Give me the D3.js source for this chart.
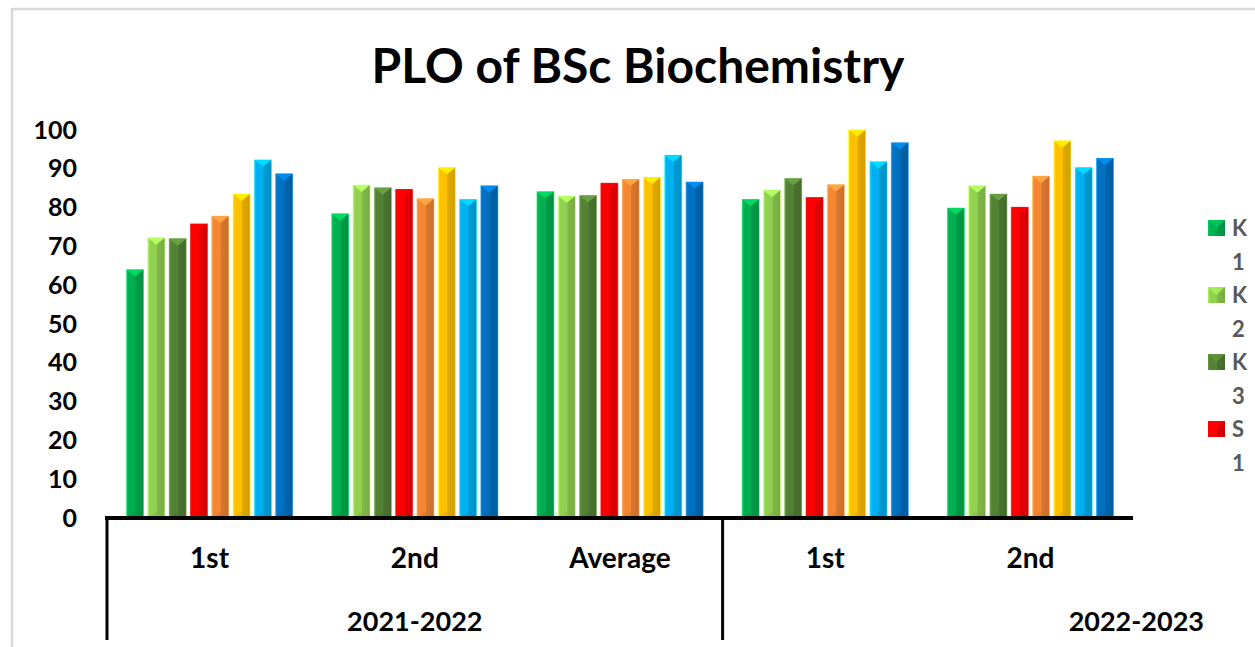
<!DOCTYPE html>
<html>
<head>
<meta charset="utf-8">
<script src="https://cdn.jsdelivr.net/npm/d3@7"></script>
<style>
  body { margin: 0; background: #fff; }
  text { font-family: Lato, "Open Sans", sans-serif; font-weight: bold; }
</style>
</head>
<body>
<svg id="chart" width="1255" height="647"></svg>
<script>
// categories (level 1) and their year groups (level 2)
const categories = ["1st", "2nd", "Average", "1st", "2nd"];
const yearLabels = ["2021-2022", "2022-2023"];
const yearSpans = [3, 2];

const seriesNames = ["K1", "K2", "K3", "S1", "S2", "S3", "A1", "A2"];
const seriesColors = ["#00B050", "#92D050", "#548235", "#FF0000", "#F58634", "#FFC000", "#00B0F0", "#0070C0"];

const k1 = [64.0, 78.4, 84.1, 82.1, 79.9];
const k2 = [72.2, 85.8, 83.0, 84.5, 85.6];
const k3 = [72.0, 85.1, 83.1, 87.5, 83.5];
const s1 = [75.8, 84.7, 86.3, 82.6, 80.1];
const s2 = [77.8, 82.3, 87.3, 85.9, 88.1];
const s3 = [83.5, 90.3, 87.8, 100.0, 97.2];
const a1 = [92.3, 82.1, 93.5, 91.8, 90.3];
const a2 = [88.7, 85.6, 86.6, 96.7, 92.7];
const seriesValues = [k1, k2, k3, s1, s2, s3, a1, a2];

const yTicks = [0, 10, 20, 30, 40, 50, 60, 70, 80, 90, 100];

const svg = d3.select("#chart");

// chart frame
svg.append("rect")
    .attr("x", 12).attr("y", 9)
    .attr("width", 1400).attr("height", 800)
    .attr("fill", "none").attr("stroke", "#d9d9d9").attr("stroke-width", 2.5);

svg.append("text")
    .attr("x", 638).attr("y", 83)
    .attr("text-anchor", "middle")
    .attr("font-size", 48)
    .text("PLO of BSc Biochemistry");

const x0 = d3.scaleBand().domain(d3.range(categories.length)).range([107, 1133]);
const x1 = d3.scaleBand().domain(d3.range(seriesNames.length))
    .range([19.5, x0.bandwidth() - 19.5]).paddingInner(0.2);
const y = d3.scaleLinear().domain([0, 100]).range([518, 130]);

// gradients to imitate the bevelled bar look
const defs = svg.append("defs");
seriesColors.forEach((c, i) => {
    const g = defs.append("linearGradient").attr("id", "bar" + i)
        .attr("x1", 0).attr("x2", 1).attr("y1", 0).attr("y2", 0);
    const base = d3.color(c);
    [[0, base.brighter(0.5)], [0.12, base], [0.5, base], [0.56, base.darker(0.35)], [1, base.darker(0.55)]]
        .forEach(([o, col]) => g.append("stop").attr("offset", o).attr("stop-color", col));
});

// y axis
const yAxis = svg.append("g")
    .attr("transform", "translate(77,0)")
    .call(d3.axisLeft(y).tickValues(yTicks).tickSize(0).tickPadding(0));
yAxis.select(".domain").remove();
yAxis.selectAll("text").attr("font-size", 25).attr("fill", "#000")
    .style("font-family", "Lato, sans-serif");

// bars
const cats = svg.append("g").selectAll("g")
    .data(d3.range(categories.length))
    .join("g")
    .attr("transform", i => "translate(" + x0(i) + ",0)");

const bars = cats.selectAll("g")
    .data(i => seriesValues.map((vals, j) => ({ s: j, v: vals[i] })))
    .join("g");

const bw = x1.bandwidth();

bars.append("rect")
    .attr("x", d => x1(d.s))
    .attr("y", d => y(d.v))
    .attr("width", bw)
    .attr("height", d => y(0) - y(d.v))
    .attr("fill", d => "url(#bar" + d.s + ")")
    .attr("stroke", d => d3.color(seriesColors[d.s]).brighter(0.9))
    .attr("stroke-opacity", 0.6)
    .attr("stroke-width", 0.8);

// top bevel point
bars.append("path")
    .attr("d", d => {
        const x = x1(d.s), t = y(d.v);
        return "M" + x + "," + t + "L" + (x + bw) + "," + t + "L" + (x + bw / 2) + "," + (t + bw * 0.4) + "Z";
    })
    .attr("fill", d => d3.color(seriesColors[d.s]).brighter(0.6));

// bottom bevel point
bars.append("path")
    .attr("d", d => {
        const x = x1(d.s), b = y(0);
        return "M" + x + "," + b + "L" + (x + bw) + "," + b + "L" + (x + bw / 2) + "," + (b - bw * 0.4) + "Z";
    })
    .attr("fill", d => d3.color(seriesColors[d.s]).darker(0.5))
    .attr("opacity", 0.35);

// category axis
const xAxis = svg.append("g")
    .attr("transform", "translate(0,518)")
    .call(d3.axisBottom(x0).tickSize(0).tickPadding(30).tickFormat(i => categories[i]));
xAxis.select(".domain").remove();
xAxis.selectAll("text").attr("font-size", 28).attr("fill", "#000")
    .style("font-family", "Lato, sans-serif");

svg.append("line")
    .attr("x1", x0.range()[0] - 2).attr("x2", x0.range()[1])
    .attr("y1", y(0)).attr("y2", y(0))
    .attr("stroke", "#000").attr("stroke-width", 4);

// year group separators and labels
let start = 0;
yearLabels.forEach((lbl, k) => {
    const xs = x0(start);
    svg.append("line")
        .attr("x1", xs).attr("x2", xs)
        .attr("y1", y(0)).attr("y2", 640)
        .attr("stroke", "#000").attr("stroke-width", 3);
    const last = k === yearLabels.length - 1;
    const xe = last ? x0.range()[1] + 71 : x0(start + yearSpans[k]);
    svg.append("text")
        .attr("x", last ? xe : (xs + xe) / 2)
        .attr("y", 631)
        .attr("text-anchor", last ? "end" : "middle")
        .attr("font-size", 27)
        .text(lbl);
    start += yearSpans[k];
});

// legend: only the first four entries fit, names wrap one character per line
const legend = svg.append("g").selectAll("g")
    .data(seriesNames.slice(0, 4))
    .join("g")
    .attr("transform", (d, i) => "translate(1208," + (220 + i * 67) + ")");

legend.append("rect")
    .attr("width", 17).attr("height", 16)
    .attr("fill", (d, i) => "url(#bar" + i + ")");
legend.append("path")
    .attr("d", "M0,0L17,0L8.5,8Z")
    .attr("fill", (d, i) => d3.color(seriesColors[i]).brighter(0.5))
    .attr("opacity", 0.7);

legend.append("text")
    .attr("x", 24)
    .attr("font-size", 22)
    .attr("fill", "#595959")
    .selectAll("tspan")
    .data(d => d.split(""))
    .join("tspan")
    .attr("x", 24)
    .attr("y", (c, i) => 16 + i * 34)
    .text(c => c);
</script>
</body>
</html>
